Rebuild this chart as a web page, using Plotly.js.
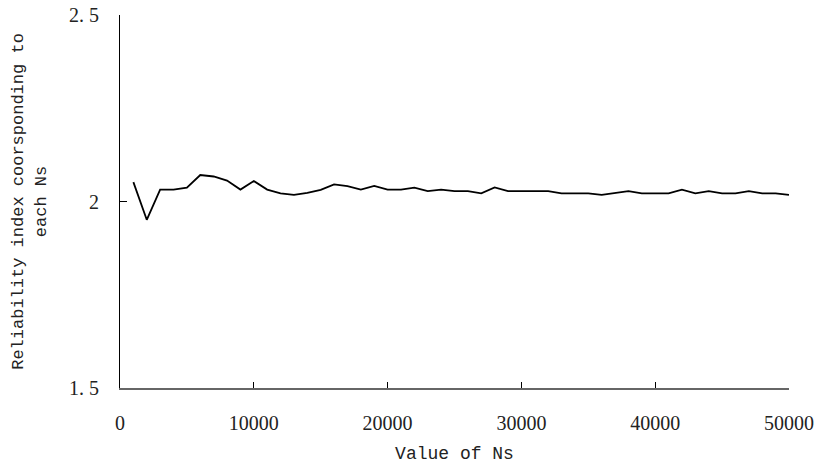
<!DOCTYPE html>
<html>
<head>
<meta charset="utf-8">
<script src="https://cdn.plot.ly/plotly-3.0.1.min.js"></script>
<style>html,body{margin:0;padding:0;background:#fff;}#chart{width:817px;height:468px;}</style>
</head>
<body>
<div id="chart"></div>
<script>
const ns = [1000,2000,3000,4000,5000,6000,7000,8000,9000,10000,
  11000,12000,13000,14000,15000,16000,17000,18000,19000,20000,
  21000,22000,23000,24000,25000,26000,27000,28000,29000,30000,
  31000,32000,33000,34000,35000,36000,37000,38000,39000,40000,
  41000,42000,43000,44000,45000,46000,47000,48000,49000,50000];
const reliability = [2.052,1.951,2.032,2.032,2.037,2.071,2.067,2.056,2.032,2.055,
  2.032,2.022,2.018,2.023,2.031,2.046,2.041,2.032,2.042,2.032,
  2.032,2.037,2.028,2.032,2.028,2.028,2.022,2.038,2.028,2.028,
  2.028,2.028,2.022,2.022,2.022,2.018,2.022,2.028,2.022,2.022,
  2.022,2.032,2.022,2.028,2.022,2.022,2.028,2.022,2.022,2.018];
const yTickVals = [1.5, 2, 2.5];
const yTickText = ["1.\u00a05", "2", "2.\u00a05"];
const xTickVals = [0, 10000, 20000, 30000, 40000, 50000];
const xTickText = ["0", "10000", "20000", "30000", "40000", "50000"];

const monoFont = "Liberation Mono, DejaVu Sans Mono, monospace";
const serifFont = "Liberation Serif, DejaVu Serif, serif";
Plotly.newPlot("chart", [{
  x: ns, y: reliability, type: "scatter", mode: "lines",
  line: {color: "#000", width: 1.8}
}], {
  width: 817, height: 468,
  margin: {l: 120, r: 28, t: 15, b: 80},
  paper_bgcolor: "#fff", plot_bgcolor: "#fff",
  showlegend: false,
  font: {family: monoFont, color: "#222", size: 17},
  xaxis: {
    range: [0, 50000], tickvals: xTickVals, ticktext: xTickText,
    showgrid: false, zeroline: false, showline: true, linecolor: "#666", linewidth: 1.5,
    ticks: "inside", ticklen: 6, tickcolor: "#000", tickwidth: 1,
    ticklabelstandoff: 16,
    tickfont: {family: serifFont, size: 20, color: "#222"},
    title: {text: "Value of Ns", font: {family: monoFont, size: 18, color: "#222"}, standoff: 14}
  },
  yaxis: {
    range: [1.5, 2.5], tickvals: yTickVals, ticktext: yTickText,
    showgrid: false, zeroline: false, showline: true, linecolor: "#000", linewidth: 1,
    ticks: "inside", ticklen: 7, tickcolor: "#000",
    ticklabelstandoff: 16,
    tickfont: {family: serifFont, size: 20, color: "#222"},
    title: {text: "Reliability index coorsponding to<br>each Ns", font: {family: monoFont, size: 17, color: "#222"}, standoff: 18}
  }
}, {displayModeBar: false, staticPlot: true});
</script>
</body>
</html>
